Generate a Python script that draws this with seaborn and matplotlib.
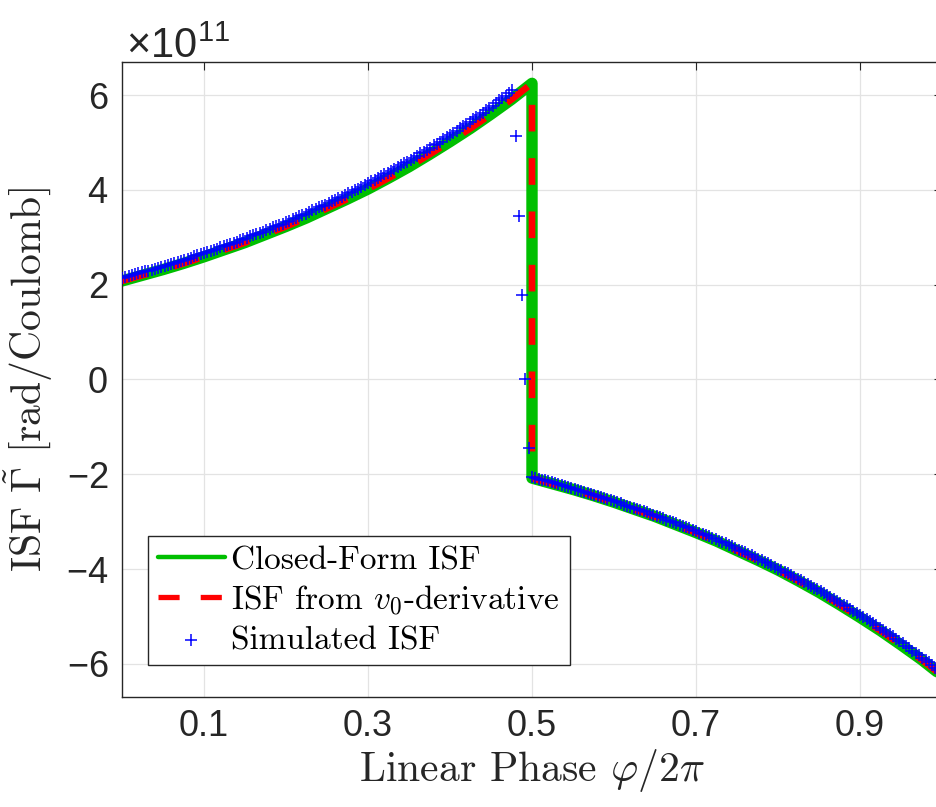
import numpy as np
import pandas as pd
import matplotlib
matplotlib.use("Agg")
import matplotlib.pyplot as plt
import seaborn as sns
from matplotlib.ticker import ScalarFormatter

# ---------------- data (ISF in units of 1e11 rad/Coulomb) ----------------
SCALE = 1e11

phase_cf = [0.000, 0.025, 0.050, 0.075, 0.100, 0.125, 0.150, 0.175, 0.200, 0.225,
            0.250, 0.275, 0.300, 0.325, 0.350, 0.375, 0.400, 0.425, 0.450, 0.475,
            0.500,
            0.500, 0.525, 0.550, 0.575, 0.600, 0.625, 0.650, 0.675, 0.700, 0.725,
            0.750, 0.775, 0.800, 0.825, 0.850, 0.875, 0.900, 0.925, 0.950, 0.975,
            1.000]
isf_closed = [2.08, 2.20, 2.32, 2.45, 2.59, 2.74, 2.89, 3.06, 3.23, 3.41,
              3.61, 3.81, 4.02, 4.25, 4.49, 4.75, 5.02, 5.30, 5.60, 5.91,
              6.25,
              -2.08, -2.20, -2.32, -2.45, -2.59, -2.74, -2.89, -3.06, -3.23, -3.41,
              -3.61, -3.81, -4.02, -4.25, -4.49, -4.75, -5.02, -5.30, -5.60, -5.91,
              -6.25]
isf_v0_deriv = [2.08, 2.20, 2.32, 2.45, 2.59, 2.74, 2.89, 3.06, 3.23, 3.41,
                3.61, 3.81, 4.02, 4.25, 4.49, 4.75, 5.02, 5.30, 5.60, 5.91,
                6.25,
                -2.08, -2.20, -2.32, -2.45, -2.59, -2.74, -2.89, -3.06, -3.23, -3.41,
                -3.61, -3.81, -4.02, -4.25, -4.49, -4.75, -5.02, -5.30, -5.60, -5.91,
                -6.25]

# simulated ISF, sampled on a uniform phase grid (250 samples, step 0.004)
phase_sim = np.linspace(0.0, 0.996, 250)
isf_sim = [
    2.14, 2.16, 2.18, 2.20, 2.22, 2.24, 2.26, 2.28, 2.30, 2.32,
    2.34, 2.36, 2.38, 2.40, 2.42, 2.44, 2.46, 2.49, 2.51, 2.53,
    2.55, 2.57, 2.60, 2.62, 2.64, 2.67, 2.69, 2.71, 2.74, 2.76,
    2.79, 2.81, 2.84, 2.86, 2.89, 2.91, 2.94, 2.96, 2.99, 3.02,
    3.04, 3.07, 3.10, 3.12, 3.15, 3.18, 3.21, 3.24, 3.26, 3.29,
    3.32, 3.35, 3.38, 3.41, 3.44, 3.47, 3.50, 3.53, 3.57, 3.60,
    3.63, 3.66, 3.69, 3.73, 3.76, 3.79, 3.83, 3.86, 3.89, 3.93,
    3.96, 4.00, 4.03, 4.07, 4.10, 4.14, 4.18, 4.21, 4.25, 4.29,
    4.33, 4.36, 4.40, 4.44, 4.48, 4.52, 4.56, 4.60, 4.64, 4.68,
    4.72, 4.77, 4.81, 4.85, 4.89, 4.94, 4.98, 5.02, 5.07, 5.11,
    5.16, 5.20, 5.25, 5.30, 5.34, 5.39, 5.44, 5.49, 5.54, 5.58,
    5.63, 5.68, 5.73, 5.78, 5.84, 5.89, 5.94, 5.99, 6.04, 6.10,
    5.13, 3.46, 1.79, 0.00, -1.44,
    -2.06, -2.08, -2.10, -2.12, -2.13, -2.15, -2.17, -2.19, -2.21, -2.23,
    -2.25, -2.27, -2.29, -2.31, -2.33, -2.35, -2.37, -2.39, -2.41, -2.43,
    -2.46, -2.48, -2.50, -2.52, -2.54, -2.57, -2.59, -2.61, -2.64, -2.66,
    -2.68, -2.71, -2.73, -2.75, -2.78, -2.80, -2.83, -2.85, -2.88, -2.90,
    -2.93, -2.96, -2.98, -3.01, -3.03, -3.06, -3.09, -3.12, -3.14, -3.17,
    -3.20, -3.23, -3.26, -3.28, -3.31, -3.34, -3.37, -3.40, -3.43, -3.46,
    -3.49, -3.52, -3.55, -3.59, -3.62, -3.65, -3.68, -3.71, -3.75, -3.78,
    -3.81, -3.85, -3.88, -3.92, -3.95, -3.99, -4.02, -4.06, -4.09, -4.13,
    -4.17, -4.20, -4.24, -4.28, -4.31, -4.35, -4.39, -4.43, -4.47, -4.51,
    -4.55, -4.59, -4.63, -4.67, -4.71, -4.75, -4.79, -4.84, -4.88, -4.92,
    -4.97, -5.01, -5.05, -5.10, -5.14, -5.19, -5.24, -5.28, -5.33, -5.38,
    -5.42, -5.47, -5.52, -5.57, -5.62, -5.67, -5.72, -5.77, -5.82, -5.87,
    -5.92, -5.97, -6.03, -6.08, -6.13,
]

x_ticks = [0.1, 0.3, 0.5, 0.7, 0.9]
x_ticklabels = ["0.1", "0.3", "0.5", "0.7", "0.9"]
y_ticks = [-6, -4, -2, 0, 2, 4, 6]

labels = ["Closed-Form ISF", "ISF from $v_0$-derivative", "Simulated ISF"]

# ---------------- style ----------------
sns.set_style("white")
plt.rcParams["font.family"] = ["Liberation Sans", "DejaVu Sans"]
plt.rcParams["axes.unicode_minus"] = False
plt.rcParams["mathtext.fontset"] = "custom"
plt.rcParams["mathtext.rm"] = "Liberation Sans"
plt.rcParams["mathtext.it"] = "Liberation Sans:italic"
plt.rcParams["mathtext.bf"] = "Liberation Sans:bold"

AX_COL = "#262626"
GREEN = (0.0, 0.75, 0.0)
RED = (1.0, 0.0, 0.0)
BLUE = (0.0, 0.0, 1.0)

df_cf = pd.DataFrame({"phase": phase_cf, "isf": np.array(isf_closed) * SCALE})
df_v0 = pd.DataFrame({"phase": phase_cf, "isf": np.array(isf_v0_deriv) * SCALE})
df_sim = pd.DataFrame({"phase": phase_sim, "isf": np.array(isf_sim) * SCALE})

fig = plt.figure(figsize=(9.36, 8.07), dpi=100)
ax = fig.add_axes([122 / 936, 110 / 807, 820 / 936, 635 / 807])

sns.lineplot(data=df_cf, x="phase", y="isf", ax=ax, sort=False, estimator=None,
             color=GREEN, linewidth=8.2, solid_joinstyle="round",
             solid_capstyle="round", label=labels[0], zorder=2)
sns.lineplot(data=df_v0, x="phase", y="isf", ax=ax, sort=False, estimator=None,
             color=RED, linewidth=4.8, dashes=(4.0, 4.0), label=labels[1], zorder=3)
sns.scatterplot(data=df_sim, x="phase", y="isf", ax=ax, marker="+", color=BLUE,
                s=70, linewidth=1.1, label=labels[2], zorder=4)

ax.set_xlim(0, 1)
ax.set_ylim(-6.7 * SCALE, 6.7 * SCALE)
ax.set_xticks(x_ticks)
ax.set_xticklabels(x_ticklabels)
ax.set_yticks(np.array(y_ticks) * SCALE)

fmt = ScalarFormatter(useMathText=True)
fmt.set_powerlimits((0, 0))
ax.yaxis.set_major_formatter(fmt)

ax.grid(True, color="#e3e3e3", linewidth=0.9)
ax.set_axisbelow(True)
for side, sp in ax.spines.items():
    sp.set_visible(True)
    sp.set_color(AX_COL)
    sp.set_linewidth(1.0)

ax.tick_params(axis="both", which="major", direction="in", top=True, right=True,
               length=6, width=0.8, colors=AX_COL, labelsize=26)
ax.tick_params(axis="y", pad=10)
ax.tick_params(axis="x", pad=9)

off = ax.yaxis.get_offset_text()
off.set_fontsize(30)
off.set_color(AX_COL)
off.set_x(0.005)

ax.set_xlabel(r"Linear Phase $\varphi/2\pi$", fontfamily="cmr10",
              math_fontfamily="cm", fontsize=30, color="#262626", labelpad=2)
ax.set_ylabel(r"ISF $\tilde{\Gamma}$ [rad/Coulomb]", fontfamily="cmr10",
              math_fontfamily="cm", fontsize=30, color="#262626", labelpad=8)

leg = ax.legend(loc="lower left", bbox_to_anchor=(26 / 820, 32 / 635),
                borderaxespad=0, frameon=True, fancybox=False,
                prop={"family": "cmr10", "size": 24}, handlelength=2.0,
                handletextpad=0.2, labelspacing=0.25, borderpad=0.3)
leg.get_frame().set_edgecolor("#262626")
leg.get_frame().set_linewidth(1.0)
leg.get_frame().set_facecolor("white")
leg.get_frame().set_alpha(1.0)
for t in leg.get_texts():
    t.set_math_fontfamily("cm")
    t.set_color("black")
hs = leg.legend_handles
hs[0].set_linewidth(3.2)
hs[1].set_linewidth(3.8)

fig.savefig("out.png", dpi=100)
